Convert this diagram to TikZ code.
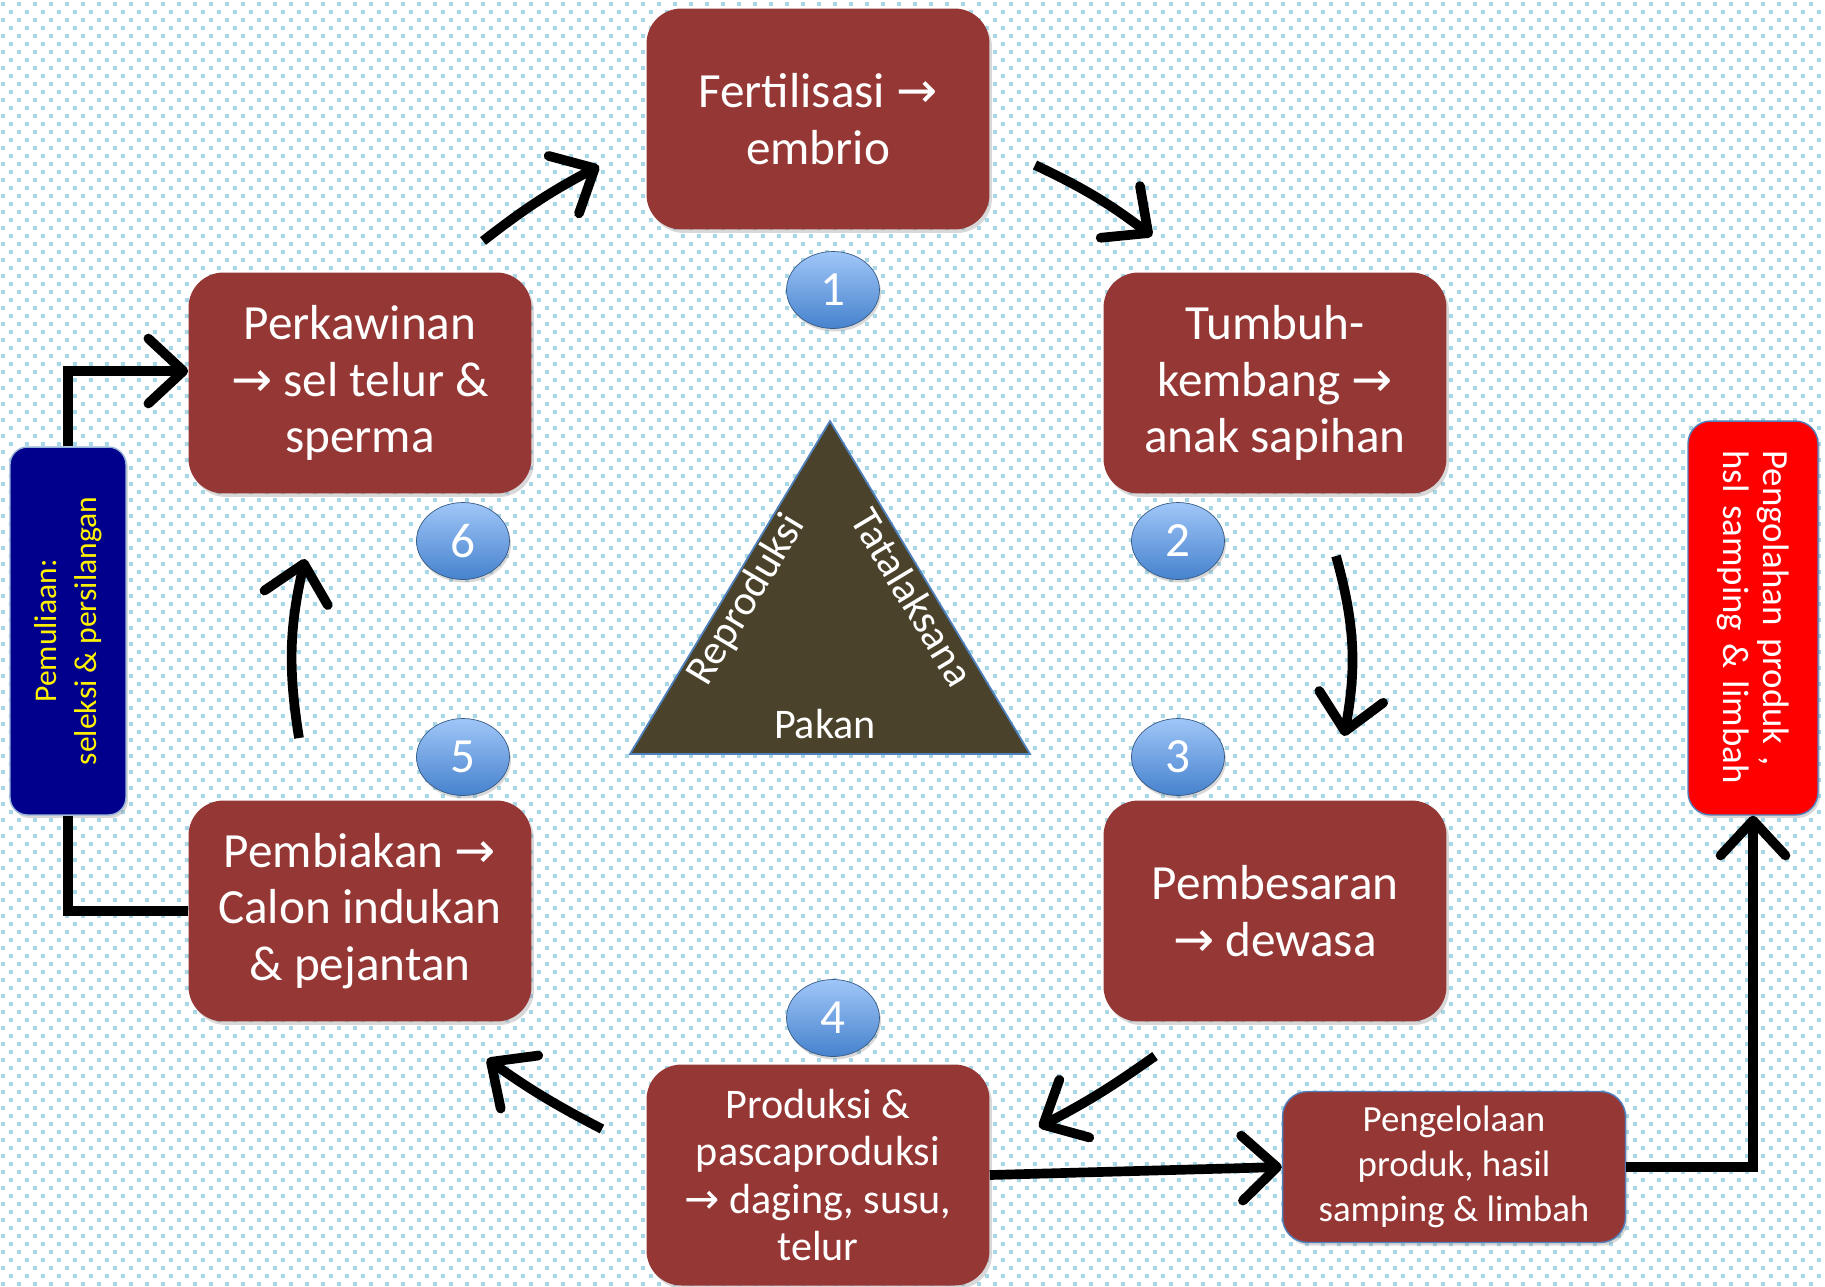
\documentclass[tikz,border=0pt]{standalone}
\usepackage{xcolor}
\usepackage{tikz}
\usetikzlibrary{shapes, arrows.meta, positioning, shadows, patterns}
\usepackage{fontspec}
\setmainfont{Carlito}
\newfontfamily\panahfont{DejaVu Sans}
\newcommand{\panah}{{\panahfont →}}

\definecolor{merahbata}{RGB}{149,55,53}
\definecolor{latar}{RGB}{170,215,230}
\definecolor{birutua}{RGB}{0,0,140}
\definecolor{zaitun}{RGB}{74,66,42}
\definecolor{garisbiru}{RGB}{79,129,189}
\definecolor{gelembungatas}{RGB}{160,198,248}
\definecolor{gelembungbawah}{RGB}{70,130,205}

% pola titik latar
\pgfdeclarepatternformonly{titiklatar}{\pgfpointorigin}{\pgfpoint{0.32cm}{0.32cm}}{\pgfpoint{0.32cm}{0.32cm}}{
    \pgfpathrectangle{\pgfpoint{0.02cm}{0.02cm}}{\pgfpoint{0.08cm}{0.08cm}}
    \pgfpathrectangle{\pgfpoint{0.18cm}{0.18cm}}{\pgfpoint{0.08cm}{0.08cm}}
    \pgfusepath{fill}}

\begin{document}
\begin{tikzpicture}[x=0.02cm, y=-0.02cm,
    kotak/.style={rectangle, rounded corners=0.7cm, fill=merahbata, text=white, align=center,
        minimum width=6.86cm, minimum height=4.42cm, font=\fontsize{28}{32}\selectfont,
        drop shadow={opacity=0.3, shadow xshift=0.05cm, shadow yshift=-0.07cm}},
    nomor/.style={ellipse, draw=garisbiru!70!black, thin, top color=gelembungatas, bottom color=gelembungbawah,
        text=white, minimum width=1.86cm, minimum height=1.54cm, font=\fontsize{28}{32}\selectfont,
        drop shadow={opacity=0.3, shadow xshift=0.03cm, shadow yshift=-0.06cm}},
    siklus/.style={line width=5.5pt, -{Straight Barb[length=0.7cm, width=1.3cm, round]}},
    sambung/.style={line width=5.5pt}]
            \useasboundingbox (0,0) rectangle (1825,1286);
            % latar
            \fill[white] (0,0) rectangle (1825,1286);
            \fill[pattern=titiklatar, pattern color=latar] (0,0) rectangle (1825,1286);

            % segitiga tengah
            \coordinate (puncak) at (830,421);
            \coordinate (kiri) at (630,754);
            \coordinate (kanan) at (1030,754);
            \draw[fill=zaitun, draw=garisbiru, line width=1pt] (puncak) -- (kanan) -- (kiri) -- cycle;
            \node[text=white, font=\fontsize{24}{28}\selectfont, rotate=59] (repro) at (747,600) {Reproduksi};
            \node[text=white, font=\fontsize{24}{28}\selectfont, rotate=-59] (tata) at (913,597) {Tatalaksana};
            \node[text=white, font=\fontsize{24}{28}\selectfont] (pakan) at (825,724) {Pakan};

            % tahapan
            \node[kotak] (fertil) at (818,119) {Fertilisasi \panah\\embrio};
            \node[kotak] (tumbuh) at (1275,383) {Tumbuh-\\kembang \panah\\anak sapihan};
            \node[kotak] (besar) at (1275,911) {Pembesaran\\\panah{} dewasa};
            \node[kotak, font=\fontsize{24}{27}\selectfont] (produksi) at (818,1175) {Produksi \&\\pascaproduksi\\\panah{} daging, susu,\\telur};
            \node[kotak] (biak) at (360,911) {Pembiakan \panah\\Calon indukan\\\& pejantan};
            \node[kotak] (kawin) at (360,383) {Perkawinan\\\panah{} sel telur \&\\sperma};

            \node[nomor] (n1) at (833,290) {1};
            \node[nomor] (n2) at (1178,541) {2};
            \node[nomor] (n3) at (1178,757) {3};
            \node[nomor] (n4) at (833,1018) {4};
            \node[nomor] (n5) at (463,757) {5};
            \node[nomor] (n6) at (463,541) {6};

            % kotak samping
            \node[rectangle, rounded corners=0.5cm, fill=merahbata, draw=garisbiru, thick, text=white, align=center,
                minimum width=6.86cm, minimum height=3.02cm, font=\fontsize{21}{25.5}\selectfont,
                drop shadow={opacity=0.3, shadow xshift=0.04cm, shadow yshift=-0.06cm}] (kelola) at (1454,1167)
                {Pengelolaan\\produk, hasil\\samping \& limbah};
            \node[rectangle, rounded corners=0.45cm, fill=red, draw=garisbiru, thick, text=white, align=left,
                rotate=-90, text width=6.7cm, inner xsep=0.59cm, minimum height=2.6cm, font=\fontsize{21}{23}\selectfont,
                drop shadow={opacity=0.3, shadow xshift=0.04cm, shadow yshift=-0.06cm}] (olah) at (1753,618)
                {Pengolahan produk ,\\hsl samping \& limbah};
            \node[rectangle, rounded corners=0.35cm, fill=birutua, draw=garisbiru!60, thick, text=yellow, align=center,
                rotate=90, minimum width=7.36cm, minimum height=2.32cm, font=\fontsize{18}{22.6}\selectfont,
                drop shadow={opacity=0.3, shadow xshift=0.04cm, shadow yshift=-0.06cm}] (mulia) at (68,631)
                {Pemuliaan:\\seleksi \& persilangan};

            % panah siklus
            \coordinate (k6a) at (483,241);
            \coordinate (k1a) at (599,166);
            \coordinate (k1b) at (1035,165);
            \coordinate (k2a) at (1152,236);
            \coordinate (k2b) at (1336,556);
            \coordinate (k3a) at (1344,736);
            \coordinate (k3b) at (1155,1056);
            \coordinate (k4a) at (1039,1127);
            \coordinate (k4b) at (602,1129);
            \coordinate (k5a) at (487,1059);
            \coordinate (k5b) at (299,738);
            \coordinate (k6b) at (305,559);
            \draw[siklus] (k6a) to[bend left=5] (k1a);
            \draw[siklus] (k1b) to[bend left=6] (k2a);
            \draw[siklus] (k2b) to[bend left=13] (k3a);
            \draw[siklus] (k3b) to[bend left=4] (k4a);
            \draw[siklus] (k4b) to[bend left=4] (k5a);
            \draw[siklus] (k5b) to[bend left=11] (k6b);

            % sambungan
            \draw[siklus] (produksi.east) -- (kelola.west);
            \draw[siklus] (kelola.east) -| (olah.east);
            \draw[sambung] (biak.west) -| (mulia.west);
            \draw[siklus] (mulia.east) |- ([yshift=0.24cm]kawin.west);
        \end{tikzpicture}
\end{document}
